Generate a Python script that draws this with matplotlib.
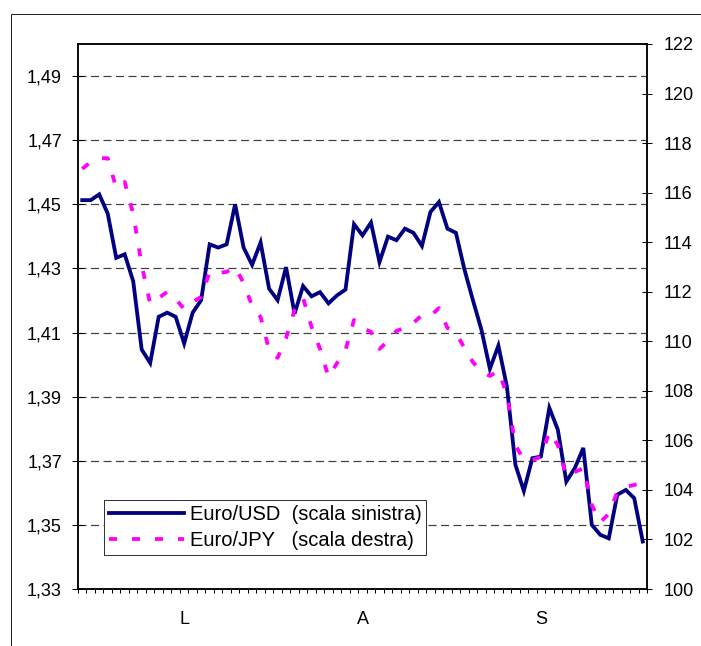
import matplotlib
matplotlib.use('Agg')
import matplotlib.pyplot as plt
import numpy as np
from matplotlib.patches import Rectangle

plt.rcParams['font.family'] = ['Liberation Sans', 'DejaVu Sans']
plt.rcParams['lines.scale_dashes'] = False

# ---- data ----
usd = [1.4513, 1.4513, 1.4531, 1.4471, 1.4333, 1.4344, 1.4260, 1.4047, 1.4005, 1.4149,
       1.4162, 1.4149, 1.4066, 1.4162, 1.4201, 1.4375, 1.4365, 1.4375, 1.4500, 1.4365,
       1.4311, 1.4381, 1.4237, 1.4201, 1.4304, 1.4159, 1.4245, 1.4213, 1.4226, 1.4191,
       1.4216, 1.4234, 1.4438, 1.4403, 1.4443, 1.4320, 1.4399, 1.4388, 1.4424, 1.4411,
       1.4370, 1.4476, 1.4507, 1.4424, 1.4411, 1.4297, 1.4201, 1.4109, 1.3987, 1.4059,
       1.3932, 1.3688, 1.3606, 1.3708, 1.3713, 1.3865, 1.3797, 1.3635, 1.3677, 1.3740,
       1.3500, 1.3469, 1.3458, 1.3594, 1.3609, 1.3583, 1.3448]
jpy = [116.96, 117.24, 117.39, 117.39, 116.19, 116.43, 115.14, 113.08, 111.51, 111.75,
       111.99, 111.71, 111.30, 111.59, 111.79, 112.80, 112.76, 112.80, 113.00, 112.35,
       111.43, 110.98, 109.65, 109.33, 110.13, 111.26, 111.75, 110.58, 109.69, 108.56,
       109.12, 109.65, 110.86, 110.54, 110.38, 109.69, 110.01, 110.42, 110.54, 110.74,
       111.06, 111.02, 111.34, 110.54, 110.34, 109.73, 109.16, 108.76, 108.60, 108.80,
       107.87, 105.81, 105.21, 105.21, 105.33, 106.34, 105.81, 104.56, 104.72, 104.88,
       103.39, 102.70, 103.03, 103.92, 104.12, 104.20, 104.30]
month_labels = ['L', 'A', 'S']
month_pos = [12, 33, 54]
left_ticks = [1.33, 1.35, 1.37, 1.39, 1.41, 1.43, 1.45, 1.47, 1.49]
right_ticks = list(range(100, 123, 2))
label_usd = 'Euro/USD  (scala sinistra)'
label_jpy = 'Euro/JPY   (scala destra)'

W, H = 701, 646
px = 0.72  # points per pixel at dpi 100
fig = plt.figure(figsize=(W / 100, H / 100), dpi=100)
fig.patch.set_facecolor('white')

# outer chart frame (cut at right and bottom)
fig.patches.append(Rectangle((11 / W, -0.1), 1.2, 1.1 - 14 / H, transform=fig.transFigure,
                             fill=False, edgecolor='#222222', lw=1.0 * px))

ax = fig.add_axes([78 / W, 1 - 589 / H, (647 - 78) / W, (589 - 44) / H])
n = len(usd)
x = np.arange(n)
ax.set_xlim(-0.5, n - 0.5)
ax.set_ylim(1.33, 1.50)

for v in left_ticks[1:]:
    ax.axhline(v, color='#404040', lw=1.2 * px, dashes=(8 * px, 4.5 * px), zorder=1)

l1, = ax.plot(x, usd, color='#000080', lw=3.8 * px, solid_joinstyle='miter', zorder=3,
              label=label_usd)

ax.set_yticks(left_ticks)
ax.set_yticklabels([f'{v:.2f}'.replace('.', ',') for v in left_ticks])
ax.tick_params(axis='y', direction='inout', length=12 * px, width=1.0 * px,
               labelsize=13, pad=10 * px, colors='black')

ax.set_xticks(month_pos)
ax.set_xticklabels(month_labels)
ax.set_xticks(np.arange(-0.5, n, 1.0), minor=True)
ax.tick_params(axis='x', which='major', length=0, labelsize=13, pad=16)
ax.tick_params(axis='x', which='minor', direction='out', length=4 * px, width=1.0 * px)

ax2 = ax.twinx()
ax2.set_ylim(100, 122)
l2, = ax2.plot(x, jpy, color='#FF00FF', lw=3.8 * px, dashes=(8 * px, 15 * px),
               dash_capstyle='butt', zorder=3, label=label_jpy)
ax2.set_yticks(right_ticks)
ax2.set_yticklabels([str(v) for v in right_ticks])
ax2.tick_params(axis='y', direction='inout', length=10 * px, width=1.0 * px,
                labelsize=13, pad=12 * px)

for a in (ax, ax2):
    for s in a.spines.values():
        s.set_color('black')
        s.set_linewidth(1.5 * px)

leg = ax2.legend(handles=[l1, l2], loc='lower left',
                 bbox_to_anchor=(104 / W, 1 - 555 / H), bbox_transform=fig.transFigure,
                 borderaxespad=0, frameon=True, fancybox=False, framealpha=1,
                 edgecolor='#333333', fontsize=14.5, handlelength=3.7,
                 handletextpad=0.3, borderpad=0.25, labelspacing=0.35)
leg.get_frame().set_linewidth(1.0 * px)

fig.savefig('out.png', dpi=100, facecolor='white')
